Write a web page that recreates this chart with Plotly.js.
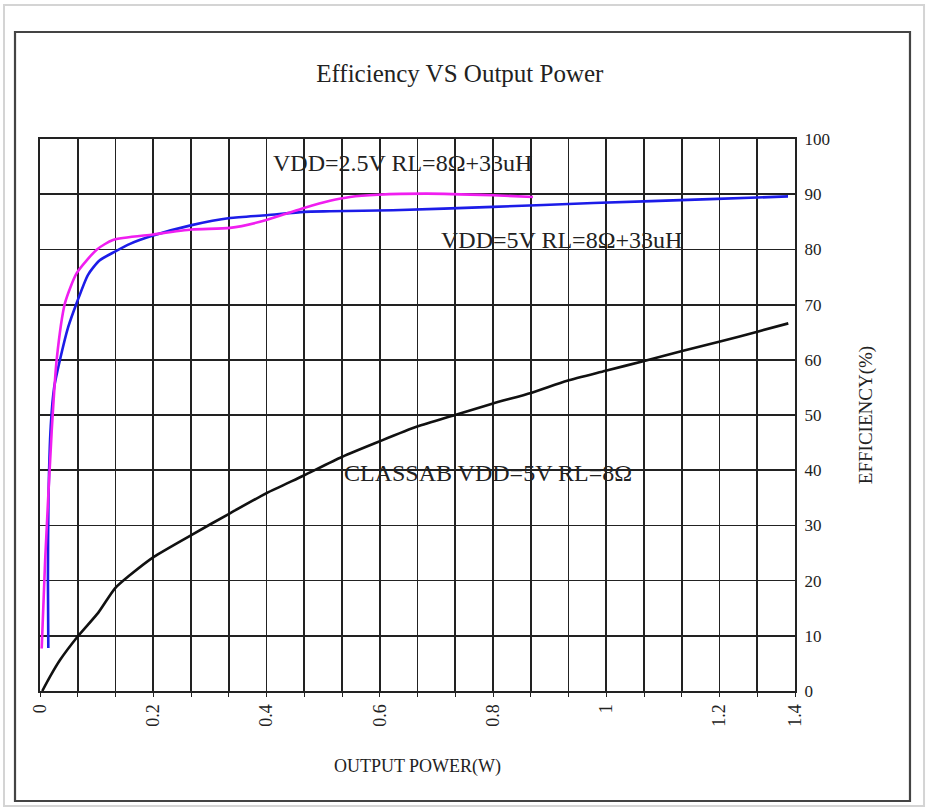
<!DOCTYPE html>
<html>
<head>
<meta charset="utf-8">
<script src="https://cdn.plot.ly/plotly-3.0.1.min.js"></script>
<style>html,body{margin:0;padding:0;background:#fff;}#chart{width:927px;height:809px;}</style>
</head>
<body>
<div id="chart"></div>
<script>
// Output power (axis units as drawn) and efficiency (%)
var classAbX = [0.004, 0.0177, 0.0353, 0.0676, 0.103, 0.1324, 0.159, 0.201, 0.268, 0.3355, 0.401, 0.465, 0.533, 0.599, 0.666, 0.733, 0.80, 0.867, 0.931, 0.999, 1.067, 1.134, 1.201, 1.267, 1.3215];
var classAbY = [0.0, 2.6, 5.6, 10.0, 14.2, 18.6, 21.0, 24.3, 28.3, 32.2, 35.9, 39.0, 42.4, 45.2, 47.9, 50.0, 52.1, 54.0, 56.2, 58.0, 59.8, 61.6, 63.3, 65.1, 66.6];

var vdd5X = [0.0147, 0.0140, 0.0150, 0.0190, 0.025, 0.0353, 0.05, 0.0648, 0.0848, 0.105, 0.1324, 0.159, 0.1996, 0.268, 0.3355, 0.40, 0.466, 0.512, 0.623, 0.80, 0.977, 1.183, 1.321];
var vdd5Y = [7.8, 20.0, 35.0, 48.0, 55.0, 60.0, 66.0, 70.3, 75.4, 78.0, 79.6, 81.0, 82.5, 84.4, 85.7, 86.2, 86.8, 86.9, 87.1, 87.7, 88.4, 89.1, 89.6];

var vdd25X = [0.003, 0.009, 0.0206, 0.0294, 0.0442, 0.0648, 0.1006, 0.1289, 0.1996, 0.268, 0.3355, 0.3885, 0.4327, 0.4662, 0.5121, 0.5475, 0.5969, 0.6834, 0.80, 0.8706];
var vdd25Y = [7.7, 23.5, 47.0, 60.0, 70.3, 75.7, 80.0, 81.7, 82.7, 83.6, 83.9, 85.0, 86.4, 87.5, 88.8, 89.5, 89.9, 90.1, 89.8, 89.5];

var xTickVals = [0, 0.2, 0.4, 0.6, 0.8, 1.0, 1.2, 4/3];
var xTickText = ["0", "0.2", "0.4", "0.6", "0.8", "1", "1.2", "1.4"];
var yTickVals = [0, 10, 20, 30, 40, 50, 60, 70, 80, 90, 100];

var labelVdd25 = "VDD=2.5V RL=8Ω+33uH";
var labelVdd5 = "VDD=5V RL=8Ω+33uH";
var labelClassAb = "CLASSAB VDD=5V RL=8Ω";

var FONT = "Liberation Serif, DejaVu Serif, serif";
var GRID = "#222";

var traces = [
  {x: classAbX, y: classAbY, mode: "lines", line: {color: "#111", width: 2.6, shape: "spline", smoothing: 0.6}, hoverinfo: "skip"},
  {x: vdd5X, y: vdd5Y, mode: "lines", line: {color: "#1c1ce8", width: 2.6, shape: "spline", smoothing: 0.6}, hoverinfo: "skip"},
  {x: vdd25X, y: vdd25Y, mode: "lines", line: {color: "#f01ef0", width: 2.6, shape: "spline", smoothing: 0.6}, hoverinfo: "skip"}
];

function frame(x0, y0, x1, y1, color, w) {
  return {type: "rect", xref: "paper", yref: "paper", x0: x0, y0: y0, x1: x1, y1: y1,
          line: {color: color, width: w}, fillcolor: "rgba(0,0,0,0)", layer: "above"};
}

var layout = {
  width: 927, height: 809,
  margin: {l: 40, r: 132, t: 139, b: 118},
  paper_bgcolor: "#fff", plot_bgcolor: "#fff",
  showlegend: false,
  font: {family: FONT, color: "#222"},
  title: {text: "Efficiency VS Output Power", font: {family: FONT, size: 25, color: "#222"},
          xref: "container", x: 0.496, yref: "container", y: 0.91, yanchor: "middle", xanchor: "center"},
  xaxis: {
    range: [0, 4/3 + 1e-6], tickmode: "array", tickvals: xTickVals, ticktext: xTickText,
    tickangle: -90, tickfont: {family: FONT, size: 18, color: "#222"},
    ticks: "outside", ticklen: 4, tickcolor: GRID,
    showgrid: true, gridcolor: GRID, gridwidth: 1.8, zeroline: false,
    minor: {tickmode: "linear", tick0: 0, dtick: 1/15, showgrid: true, gridcolor: GRID, gridwidth: 1.8, ticks: "outside", ticklen: 4, tickcolor: GRID},
    showline: true, mirror: true, linecolor: GRID, linewidth: 2,
    title: {text: "OUTPUT POWER(W)", font: {family: FONT, size: 18, color: "#222"}, standoff: 34},
    fixedrange: true
  },
  yaxis: {
    range: [0, 100], side: "right", tickmode: "array", tickvals: yTickVals,
    tickfont: {family: FONT, size: 17, color: "#222"}, ticks: "", ticklabelstandoff: 4,
    showgrid: true, gridcolor: GRID, gridwidth: 1.8, zeroline: false,
    showline: true, mirror: true, linecolor: GRID, linewidth: 2,
    title: {text: "EFFICIENCY(%)", font: {family: FONT, size: 19, color: "#222"}, standoff: 30},
    fixedrange: true
  },
  annotations: [
    {xref: "x", yref: "y", x: 0.64, y: 95.7, text: labelVdd25, showarrow: false, font: {family: FONT, size: 24, color: "#222"}},
    {xref: "x", yref: "y", x: 0.921, y: 81.7, text: labelVdd5, showarrow: false, font: {family: FONT, size: 24, color: "#222"}},
    {xref: "x", yref: "y", x: 0.791, y: 39.5, text: labelClassAb, showarrow: false, font: {family: FONT, size: 24, color: "#222"}}
  ],
  shapes: [
    frame(-0.0477, -0.2083, 1.1709, 1.2428, "#d4d4d4", 2),
    frame(-0.0331, -0.1993, 1.1523, 1.1938, "#444", 2.2)
  ]
};

Plotly.newPlot("chart", traces, layout, {staticPlot: true, displayModeBar: false});
</script>
</body>
</html>
